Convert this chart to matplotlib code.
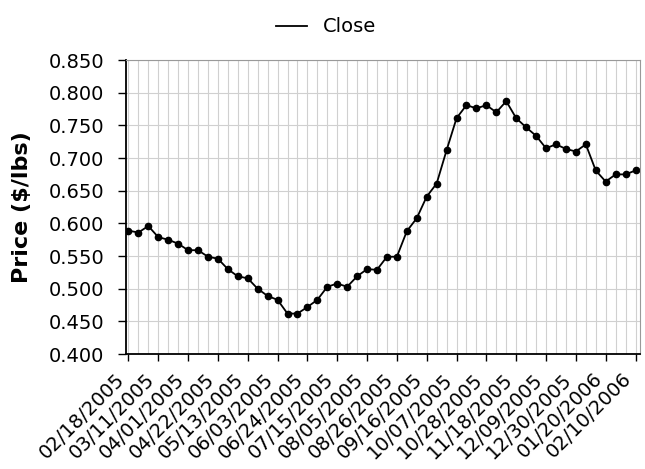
import matplotlib
matplotlib.use('Agg')
import matplotlib.pyplot as plt
from matplotlib.lines import Line2D
from matplotlib.ticker import MultipleLocator, FormatStrFormatter
import numpy as np
import pandas as pd

# weekly closing price, 02/18/2005 .. 02/10/2006
dates = pd.date_range('2005-02-18', periods=52, freq='7D')
close = [0.589, 0.586, 0.596, 0.579, 0.575, 0.569, 0.559, 0.559, 0.549, 0.546,
         0.530, 0.519, 0.516, 0.500, 0.489, 0.483, 0.462, 0.462, 0.472, 0.483,
         0.503, 0.508, 0.503, 0.519, 0.530, 0.529, 0.549, 0.549, 0.588, 0.608,
         0.641, 0.661, 0.712, 0.761, 0.781, 0.776, 0.781, 0.770, 0.787, 0.761,
         0.747, 0.734, 0.715, 0.721, 0.714, 0.710, 0.721, 0.681, 0.664, 0.675,
         0.675, 0.681]
tick_labels = [d.strftime('%m/%d/%Y') for d in dates[::3]]

x = np.arange(len(close))

fig = plt.figure(figsize=(6.45, 4.69), dpi=100)
ax = fig.add_axes([0.196, 0.245, 0.797, 0.627])

ax.plot(x, close, color='black', lw=1.3, marker='o', ms=4.5)

ax.set_xlim(-0.2, 51.5)
ax.set_ylim(0.4, 0.85)
ax.set_xticks(x[::3])
# right edge of the slanted label box sits under the tick
ax.set_xticklabels(tick_labels, rotation=45, ha='right', va='top', fontsize=14)
ax.xaxis.set_minor_locator(MultipleLocator(1))
ax.yaxis.set_major_locator(MultipleLocator(0.05))
ax.yaxis.set_major_formatter(FormatStrFormatter('%.3f'))
ax.tick_params(axis='y', labelsize=14, length=6, width=1, pad=10)
ax.tick_params(axis='x', which='major', length=5, width=1, pad=6)
ax.tick_params(axis='x', which='minor', length=0)

ax.grid(True, which='major', axis='y', color='#d0d0d0', lw=0.8)
ax.grid(True, which='both', axis='x', color='#d0d0d0', lw=0.8)
ax.set_axisbelow(True)

for s in ['top', 'right']:
    ax.spines[s].set_color('#999999')
for s in ['left', 'bottom']:
    ax.spines[s].set_color('black')
    ax.spines[s].set_linewidth(1.3)

ax.set_ylabel('Price ($/lbs)', fontsize=16, fontweight='bold', labelpad=12)

handle = Line2D([], [], color='black', lw=1.3)
fig.legend([handle], ['Close'], loc='upper center', bbox_to_anchor=(0.505, 1.0),
           frameon=False, fontsize=14, handlelength=1.6)

fig.savefig('out.png', dpi=100)
